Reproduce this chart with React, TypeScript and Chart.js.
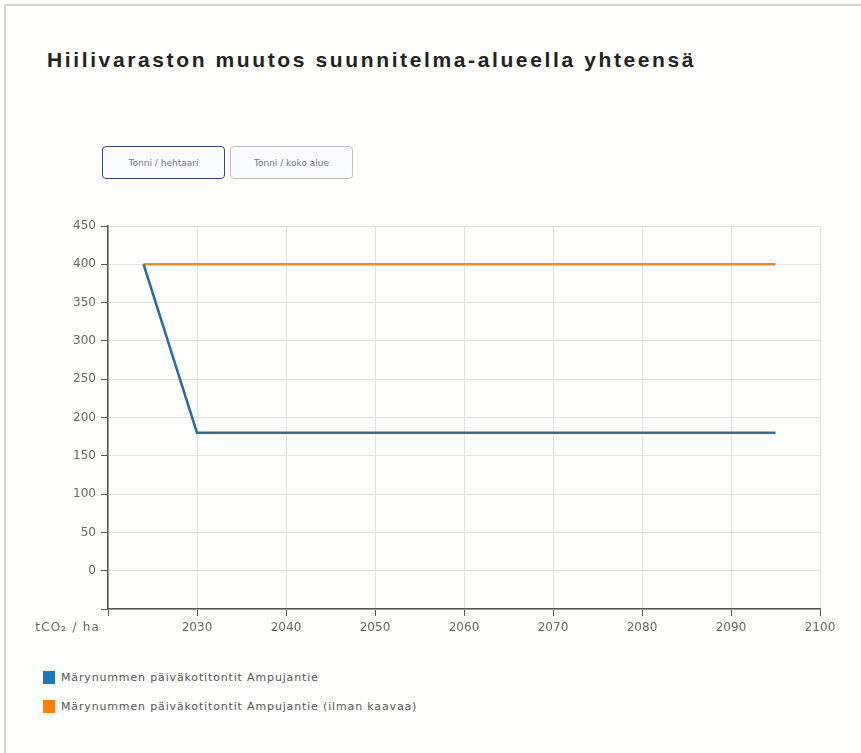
import React, { useEffect, useRef } from "react";
import { Chart, registerables } from "chart.js";

Chart.register(...registerables);

const title = "Hiilivaraston muutos suunnitelma-alueella yhteensä";
const buttonLabels = ["Tonni / hehtaari", "Tonni / koko alue"];
const unitLabel = "tCO₂ / ha";
const years = [2024, 2030, 2095];
const seriesNames = [
  "Märynummen päiväkotitontit Ampujantie",
  "Märynummen päiväkotitontit Ampujantie (ilman kaavaa)",
];
const blueValues = [400, 180, 180];
const orangeValues = [400, 400, 400];
const legendColors = ["#1f77b4", "#ff7f0e"];
const lineColors = ["#2b6c9c", "#e8892c"];

const CANVAS_TOP = 200;
const CANVAS_H = 460;

export default function App() {
  const ref = useRef<HTMLCanvasElement | null>(null);

  useEffect(() => {
    document.body.style.margin = "0";
    document.body.style.overflow = "hidden";
    const canvas = ref.current;
    if (!canvas) return;

    const unitPlugin = {
      id: "unitLabel",
      afterDraw(chart: any) {
        const { ctx, chartArea } = chart;
        ctx.save();
        ctx.font = "12px 'DejaVu Sans'";
        (ctx as any).letterSpacing = "1.2px";
        ctx.fillStyle = "#666";
        ctx.textAlign = "right";
        ctx.textBaseline = "middle";
        ctx.fillText(unitLabel, chartArea.left - 8, chartArea.bottom + 19);
        ctx.restore();
      },
    };

    const chart = new Chart(canvas, {
      type: "line",
      data: {
        datasets: [
          {
            label: seriesNames[0],
            data: years.map((x, i) => ({ x, y: blueValues[i] })),
            borderColor: lineColors[0],
            backgroundColor: legendColors[0],
            borderWidth: 2.6,
            pointRadius: 0,
            tension: 0,
          },
          {
            label: seriesNames[1],
            data: years.map((x, i) => ({ x, y: orangeValues[i] })),
            borderColor: lineColors[1],
            backgroundColor: legendColors[1],
            borderWidth: 2.6,
            pointRadius: 0,
            tension: 0,
          },
        ],
      },
      options: {
        animation: false,
        responsive: false,
        maintainAspectRatio: false,
        layout: { padding: { left: 0, right: 41, top: 26, bottom: 0 } },
        plugins: {
          legend: { display: false },
          tooltip: { enabled: false },
        },
        scales: {
          x: {
            type: "linear",
            min: 2020,
            max: 2100,
            afterFit(scale: any) {
              scale.height = CANVAS_H - 409;
            },
            ticks: {
              stepSize: 10,
              color: "#666",
              font: { family: "'DejaVu Sans'", size: 12 },
              padding: 5,
              maxRotation: 0,
              callback: (v: any) => (v === 2020 ? "" : String(v)),
            },
            grid: {
              color: "#e2e2e2",
              tickColor: "#555",
              tickLength: 7,
              lineWidth: 1,
            },
            border: { color: "#555", width: 1.5 },
          },
          y: {
            min: -50,
            max: 450,
            afterFit(scale: any) {
              scale.width = 108;
            },
            ticks: {
              stepSize: 50,
              color: "#666",
              font: { family: "'DejaVu Sans'", size: 12 },
              padding: 5,
              callback: (v: any) => (v === -50 ? "" : String(v)),
            },
            grid: {
              color: "#e2e2e2",
              tickColor: "#555",
              tickLength: 7,
              lineWidth: 1,
            },
            border: { color: "#555", width: 1.5 },
          },
        },
      },
      plugins: [unitPlugin],
    });
    return () => chart.destroy();
  }, []);

  const btnBase: React.CSSProperties = {
    position: "absolute",
    top: 146,
    width: 123,
    height: 33,
    boxSizing: "border-box",
    borderRadius: 4,
    background: "#fbfcff",
    font: "9px 'DejaVu Sans'",
    color: "#777",
    display: "flex",
    alignItems: "center",
    justifyContent: "center",
  };

  return (
    <div
      style={{
        position: "relative",
        width: 861,
        height: 753,
        overflow: "hidden",
        background: "#fefefc",
      }}
    >
      <div
        style={{
          position: "absolute",
          left: 4,
          top: 4,
          width: 900,
          height: 800,
          borderLeft: "2px solid #d4d4d0",
          borderTop: "2px solid #d4d4d0",
        }}
      />
      <div
        style={{
          position: "absolute",
          left: 47,
          top: 48,
          font: "bold 21px 'Liberation Sans Narrow', 'Liberation Sans'",
          letterSpacing: "2.62px",
          color: "#222",
          whiteSpace: "nowrap",
        }}
      >
        {title}
      </div>
      <div style={{ ...btnBase, left: 102, border: "1.5px solid #34487a" }}>
        {buttonLabels[0]}
      </div>
      <div style={{ ...btnBase, left: 230, border: "1px solid #c0c0ba" }}>
        {buttonLabels[1]}
      </div>
      <canvas
        ref={ref}
        width={861}
        height={CANVAS_H}
        style={{ position: "absolute", left: 0, top: CANVAS_TOP, width: 861, height: CANVAS_H }}
      />
      {seriesNames.map((name, i) => (
        <div
          key={name}
          style={{
            position: "absolute",
            left: 43,
            top: 671 + i * 29,
            display: "flex",
            alignItems: "center",
            whiteSpace: "nowrap",
          }}
        >
          <span
            style={{
              display: "inline-block",
              width: 12,
              height: 13,
              background: legendColors[i],
              marginRight: 6,
            }}
          />
          <span style={{ font: "11px 'DejaVu Sans'", letterSpacing: "0.85px", color: "#555" }}>
            {name}
          </span>
        </div>
      ))}
    </div>
  );
}
